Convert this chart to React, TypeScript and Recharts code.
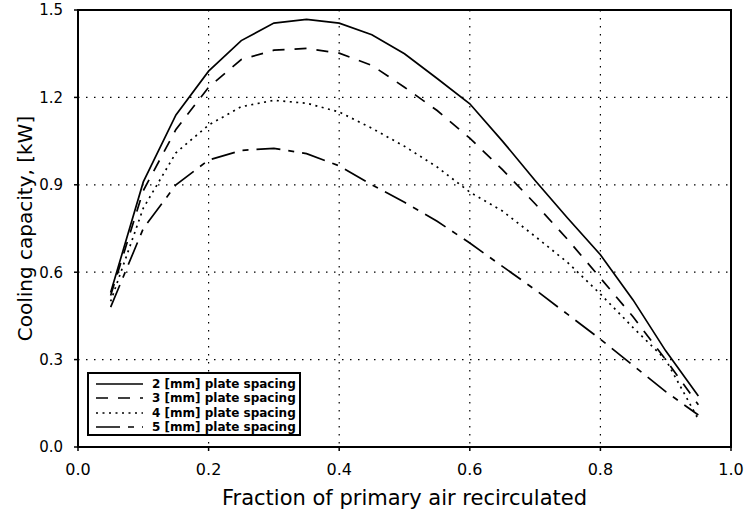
import React from 'react';
import { LineChart, Line, XAxis, YAxis, CartesianGrid, Legend, ReferenceArea } from 'recharts';

// fraction of primary air recirculated
const fraction = [0.05, 0.1, 0.15, 0.2, 0.25, 0.3, 0.35, 0.4, 0.45, 0.5, 0.55, 0.6, 0.65, 0.7, 0.75, 0.8, 0.85, 0.9, 0.95];

// cooling capacity [kW] per plate spacing
const spacing2 = [0.53, 0.91, 1.14, 1.29, 1.395, 1.455, 1.468, 1.455, 1.415, 1.35, 1.265, 1.178, 1.05, 0.915, 0.785, 0.66, 0.505, 0.33, 0.175];
const spacing3 = [0.52, 0.88, 1.09, 1.235, 1.33, 1.362, 1.368, 1.352, 1.31, 1.235, 1.155, 1.06, 0.952, 0.835, 0.712, 0.58, 0.447, 0.3, 0.145];
const spacing4 = [0.5, 0.82, 1.01, 1.105, 1.168, 1.19, 1.18, 1.15, 1.094, 1.032, 0.961, 0.875, 0.81, 0.723, 0.633, 0.525, 0.41, 0.3, 0.095];
const spacing5 = [0.48, 0.75, 0.9, 0.985, 1.018, 1.025, 1.007, 0.965, 0.9, 0.84, 0.775, 0.7, 0.62, 0.54, 0.455, 0.37, 0.28, 0.19, 0.11];

const xTicks = [0, 0.2, 0.4, 0.6, 0.8, 1.0];
const yTicks = [0, 0.3, 0.6, 0.9, 1.2, 1.5];

const series = [
  { key: 's2', name: '2 [mm] plate spacing', dash: undefined },
  { key: 's3', name: '3 [mm] plate spacing', dash: '12 10' },
  { key: 's4', name: '4 [mm] plate spacing', dash: '2 4.5' },
  { key: 's5', name: '5 [mm] plate spacing', dash: '24 8 6 8' },
];

const data = fraction.map((f, i) => ({
  f,
  s2: spacing2[i],
  s3: spacing3[i],
  s4: spacing4[i],
  s5: spacing5[i],
}));

const font = '"DejaVu Sans", sans-serif';

const LegendBox = () => (
  <div
    style={{
      boxSizing: 'border-box',
      width: 214,
      height: 64,
      border: '2px solid #000',
      background: '#fff',
      paddingTop: 3,
      fontFamily: font,
      fontWeight: 'bold',
      fontSize: 12,
      color: '#000',
    }}
  >
    {series.map((s) => (
      <div key={s.key} style={{ display: 'flex', alignItems: 'center', height: 14.3, whiteSpace: 'nowrap' }}>
        <svg width={63} height={10} style={{ flex: 'none' }}>
          <line x1={7} x2={54} y1={5} y2={5} stroke="#000" strokeWidth={1.6} strokeDasharray={s.dash} />
        </svg>
        <span>{s.name}</span>
      </div>
    ))}
  </div>
);

const YTitle = (props: any) => {
  const vb = props.viewBox || {};
  const cx = (vb.x || 0) + 25;
  const cy = (vb.y || 0) + (vb.height || 0) / 2;
  return (
    <text
      transform={`translate(${cx},${cy}) rotate(-90)`}
      textAnchor="middle"
      dominantBaseline="central"
      fontFamily={font}
      fontSize={20}
      fill="#000"
    >
      Cooling capacity, [kW]
    </text>
  );
};

export default function App() {
  return (
    <div style={{ position: 'absolute', left: 0, top: 0, background: '#fff' }}>
      <LineChart width={744} height={517} data={data} margin={{ top: 10, right: 13, left: 0, bottom: 0 }}>
        <CartesianGrid stroke="#000" strokeWidth={1.2} strokeDasharray="1.5 6.5" />
        <XAxis
          type="number"
          dataKey="f"
          domain={[0, 1]}
          ticks={xTicks}
          tickFormatter={(v: number) => v.toFixed(1)}
          height={70}
          axisLine={{ stroke: '#000', strokeWidth: 2 }}
          tickLine={{ stroke: '#000', strokeWidth: 1.5 }}
          tickSize={4}
          tickMargin={13}
          tick={{ fill: '#000', fontFamily: font, fontSize: 16 }}
          label={{
            value: 'Fraction of primary air recirculated',
            position: 'insideBottom',
            offset: 12,
            fill: '#000',
            fontFamily: font,
            fontSize: 21,
          }}
        />
        <YAxis
          type="number"
          domain={[0, 1.5]}
          ticks={yTicks}
          tickFormatter={(v: number) => v.toFixed(1)}
          width={78}
          axisLine={{ stroke: '#000', strokeWidth: 2 }}
          tickLine={{ stroke: '#000', strokeWidth: 1.5 }}
          tickSize={4}
          tickMargin={11}
          tick={{ fill: '#000', fontFamily: font, fontSize: 15 }}
          label={{ content: YTitle }}
        />
        <ReferenceArea x1={0} x2={1} y1={0} y2={1.5} fill="none" stroke="#000" strokeWidth={2} />
        {series.map((s) => (
          <Line
            key={s.key}
            type="linear"
            dataKey={s.key}
            name={s.name}
            stroke="#000"
            strokeWidth={1.7}
            strokeDasharray={s.dash}
            dot={false}
            isAnimationActive={false}
          />
        ))}
        <Legend
          layout="vertical"
          align="center"
          verticalAlign="middle"
          wrapperStyle={{ left: 87, top: 372, width: 214 }}
          content={LegendBox}
        />
      </LineChart>
    </div>
  );
}
